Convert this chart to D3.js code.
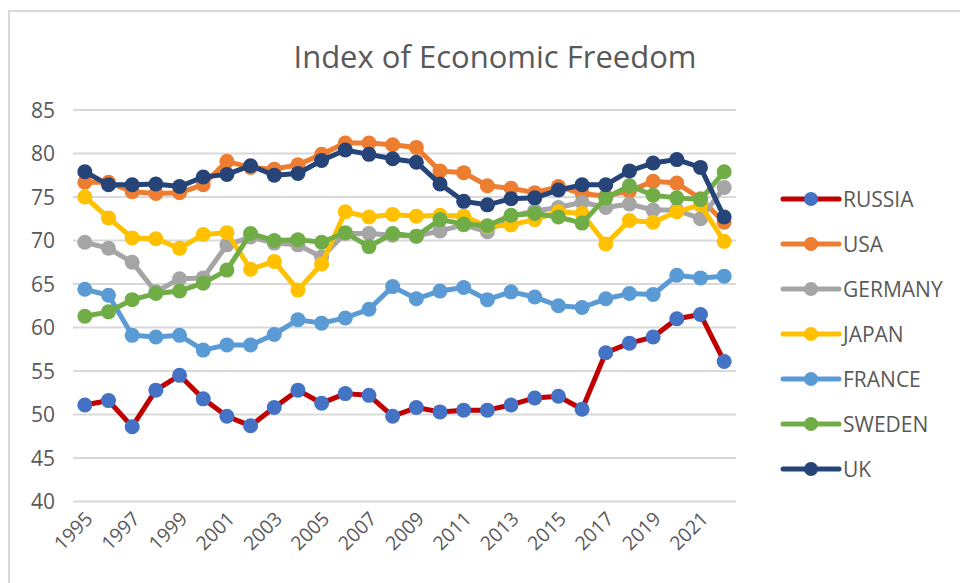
<!DOCTYPE html>
<html>
<head>
<meta charset="utf-8">
<script src="https://cdn.jsdelivr.net/npm/d3@7"></script>
<style>
  body { margin: 0; background: #fff; }
  svg text { font-family: "Open Sans", sans-serif; fill: #595959; }
</style>
</head>
<body>
<div id="chart"></div>
<script>
// years along the x axis
var years = d3.range(1995, 2023)
var yTicks = [40, 45, 50, 55, 60, 65, 70, 75, 80, 85]

// index values, one array per country
var russia  = [51.1,51.6,48.6,52.8,54.5,51.8,49.8,48.7,50.8,52.8,51.3,52.4,52.2,49.8,50.8,50.3,50.5,50.5,51.1,51.9,52.1,50.6,57.1,58.2,58.9,61.0,61.5,56.1]
var usa     = [76.7,76.7,75.6,75.4,75.5,76.4,79.1,78.4,78.2,78.7,79.9,81.2,81.2,81.0,80.7,78.0,77.8,76.3,76.0,75.5,76.2,75.4,75.1,75.7,76.8,76.6,74.8,72.1]
var germany = [69.8,69.1,67.5,64.1,65.6,65.7,69.5,70.4,69.7,69.5,68.1,70.8,70.8,70.6,70.5,71.1,71.8,71.0,72.8,73.4,73.8,74.4,73.8,74.2,73.5,73.5,72.5,76.1]
var japan   = [75.0,72.6,70.3,70.2,69.1,70.7,70.9,66.7,67.6,64.3,67.3,73.3,72.7,73.0,72.8,72.9,72.8,71.6,71.8,72.4,73.3,73.1,69.6,72.3,72.1,73.3,74.1,69.9]
var france  = [64.4,63.7,59.1,58.9,59.1,57.4,58.0,58.0,59.2,60.9,60.5,61.1,62.1,64.7,63.3,64.2,64.6,63.2,64.1,63.5,62.5,62.3,63.3,63.9,63.8,66.0,65.7,65.9]
var sweden  = [61.3,61.8,63.2,63.9,64.2,65.1,66.6,70.8,70.0,70.1,69.8,70.9,69.3,70.8,70.5,72.4,71.9,71.7,72.9,73.1,72.7,72.0,74.9,76.3,75.2,74.9,74.7,77.9]
var uk      = [77.9,76.4,76.4,76.5,76.2,77.3,77.6,78.6,77.5,77.7,79.2,80.4,79.9,79.4,79.0,76.5,74.5,74.1,74.8,74.9,75.8,76.4,76.4,78.0,78.9,79.3,78.4,72.7]

var series = [
  {name: "RUSSIA",  values: russia,  line: "#C00000", dot: "#4472C4"},
  {name: "USA",     values: usa,     line: "#ED7D31", dot: "#ED7D31"},
  {name: "GERMANY", values: germany, line: "#A5A5A5", dot: "#A5A5A5"},
  {name: "JAPAN",   values: japan,   line: "#FFC000", dot: "#FFC000"},
  {name: "FRANCE",  values: france,  line: "#5B9BD5", dot: "#5B9BD5"},
  {name: "SWEDEN",  values: sweden,  line: "#70AD47", dot: "#70AD47"},
  {name: "UK",      values: uk,      line: "#264478", dot: "#264478"}
]

var width = 960
var height = 583
var margin = {top: 110, bottom: 82, left: 73, right: 224}

var svg = d3.select("#chart").append("svg")
  .attr("width", width)
  .attr("height", height)

// chart frame (only top and left edges show in the crop)
svg.append("rect")
  .attr("x", 9).attr("y", 11)
  .attr("width", 980).attr("height", 600)
  .attr("fill", "none")
  .attr("stroke", "#d9d9d9")
  .attr("stroke-width", 2)

var x = d3.scaleBand()
  .domain(years)
  .range([margin.left, width - margin.right])

var y = d3.scaleLinear()
  .domain([40, 85])
  .range([height - margin.bottom + 0.5, margin.top])

// gridlines
svg.append("g")
  .selectAll("line")
  .data(yTicks)
  .join("line")
  .attr("x1", margin.left)
  .attr("x2", width - margin.right)
  .attr("y1", d => y(d))
  .attr("y2", d => y(d))
  .attr("stroke", "#d9d9d9")
  .attr("stroke-width", 2)

function yAxis(g){
  g.attr("transform", `translate(${margin.left - 18},0)`)
   .call(d3.axisLeft(y).tickValues(yTicks).tickSize(0).tickPadding(0))
   .call(g => g.select(".domain").remove())
   .selectAll("text")
   .attr("font-size", "21px")
   .attr("dy", "0.35em")
}

function xAxis(g){
  g.attr("transform", `translate(0, ${height - margin.bottom})`)
   .call(d3.axisBottom(x).tickValues(years.filter(d => (d - 1995) % 2 == 0)).tickSize(0).tickFormat(d => d))
   .call(g => g.select(".domain").remove())
   .selectAll("text")
   .attr("font-size", "19.5px")
   .attr("text-anchor", "end")
   .attr("dy", 0)
   .attr("y", 0)
   .attr("transform", "translate(9,19) rotate(-45)")
}

svg.append("g").call(yAxis)
svg.append("g").call(xAxis)

var line = d3.line()
  .x((d, i) => x(years[i]) + x.bandwidth() / 2)
  .y(d => y(d))

series.forEach(s => {
  var g = svg.append("g")
  g.append("path")
    .datum(s.values)
    .attr("d", line)
    .attr("fill", "none")
    .attr("stroke", s.line)
    .attr("stroke-width", 5)
    .attr("stroke-linejoin", "round")
    .attr("stroke-linecap", "round")
  g.selectAll("circle")
    .data(s.values)
    .join("circle")
    .attr("cx", (d, i) => x(years[i]) + x.bandwidth() / 2)
    .attr("cy", d => y(d))
    .attr("r", 7.5)
    .attr("fill", s.dot)
})

// title
svg.append("text")
  .attr("x", 495)
  .attr("y", 68)
  .attr("text-anchor", "middle")
  .attr("font-size", "31px")
  .text("Index of Economic Freedom")

// legend
var legend = svg.append("g")
  .selectAll("g")
  .data(series)
  .join("g")
  .attr("transform", (d, i) => `translate(783, ${199 + i * 45})`)

legend.append("line")
  .attr("x1", 0).attr("x2", 56)
  .attr("stroke", d => d.line)
  .attr("stroke-width", 5)
  .attr("stroke-linecap", "round")
legend.append("circle")
  .attr("cx", 28)
  .attr("r", 7)
  .attr("fill", d => d.dot)
legend.append("text")
  .attr("x", 60)
  .attr("dy", "0.36em")
  .attr("font-size", "21px")
  .text(d => d.name)
</script>
</body>
</html>
